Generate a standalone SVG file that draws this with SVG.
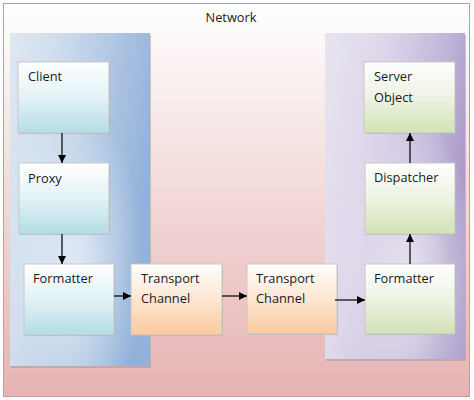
<svg xmlns="http://www.w3.org/2000/svg" width="474" height="400" viewBox="0 0 474 400">
<defs>
<linearGradient id="gNet" x1="0" y1="0" x2="0" y2="1">
<stop offset="0" stop-color="#ffffff"/>
<stop offset="0.45" stop-color="#f4dcdc"/>
<stop offset="1" stop-color="#e6b3b3"/>
</linearGradient>
<linearGradient id="gBlue" x1="0" y1="0" x2="1" y2="0.35">
<stop offset="0" stop-color="#dfe8f2"/>
<stop offset="0.35" stop-color="#cddcec"/>
<stop offset="0.75" stop-color="#a9c1e0"/>
<stop offset="1" stop-color="#93b2d9"/>
</linearGradient>
<radialGradient id="gBlueHi" cx="0.45" cy="0.7" r="0.5">
<stop offset="0" stop-color="#e6eef7" stop-opacity="0.9"/>
<stop offset="1" stop-color="#e6eef7" stop-opacity="0"/>
</radialGradient>
<linearGradient id="gPurple" x1="0" y1="0" x2="1" y2="0.35">
<stop offset="0" stop-color="#e8e4f0"/>
<stop offset="0.4" stop-color="#ddd6ea"/>
<stop offset="0.8" stop-color="#c0b4d8"/>
<stop offset="1" stop-color="#ab9cc9"/>
</linearGradient>
<radialGradient id="gPurpleHi" cx="0.6" cy="0.75" r="0.5">
<stop offset="0" stop-color="#ece8f3" stop-opacity="0.9"/>
<stop offset="1" stop-color="#ece8f3" stop-opacity="0"/>
</radialGradient>
<linearGradient id="gCyan" x1="0" y1="0" x2="0" y2="1">
<stop offset="0" stop-color="#ffffff"/>
<stop offset="0.5" stop-color="#e2f2f5"/>
<stop offset="1" stop-color="#b3dde5"/>
</linearGradient>
<linearGradient id="gOrange" x1="0" y1="0" x2="0" y2="1">
<stop offset="0" stop-color="#ffffff"/>
<stop offset="0.5" stop-color="#fde6d2"/>
<stop offset="1" stop-color="#fbc99f"/>
</linearGradient>
<linearGradient id="gGreen" x1="0" y1="0" x2="0" y2="1">
<stop offset="0" stop-color="#ffffff"/>
<stop offset="0.5" stop-color="#edf3e2"/>
<stop offset="1" stop-color="#d2e2b5"/>
</linearGradient>
<marker id="arr" viewBox="0 0 10 10" refX="10" refY="5" markerWidth="8" markerHeight="8" markerUnits="userSpaceOnUse" orient="auto">
<path d="M0,0 L10,5 L0,10 z" fill="#000"/>
</marker>
</defs>
<style>
text { font-family: "Open Sans", "Liberation Sans", sans-serif; font-size: 12.8px; fill: #1a1a1a; }
.node { stroke: #c8c8c8; stroke-width: 1; }
.shadow { fill: #9a9a9a; opacity: 0.5; }
.conn { stroke: #000; stroke-width: 1.2; fill: none; marker-end: url(#arr); }
</style>

<g id="network">
<rect x="3.5" y="3.5" width="466" height="393" fill="url(#gNet)" stroke="#c49a9a" stroke-width="1"/>
<text x="231" y="22" text-anchor="middle">Network</text>
</g>

<g id="client-side">
<rect x="11" y="35" width="140" height="333" class="shadow"/>
<rect x="10" y="33" width="140" height="333" fill="url(#gBlue)"/>
<rect x="10" y="33" width="140" height="333" fill="url(#gBlueHi)"/>
</g>

<g id="server-side">
<rect x="326" y="35" width="140" height="326" class="shadow"/>
<rect x="325" y="33" width="140" height="326" fill="url(#gPurple)"/>
<rect x="325" y="33" width="140" height="326" fill="url(#gPurpleHi)"/>
</g>

<g id="client">
<rect x="19" y="63" width="91" height="71" class="shadow"/>
<rect x="18" y="62" width="91" height="71" fill="url(#gCyan)" class="node"/>
<text x="28" y="81">Client</text>
</g>

<g id="proxy">
<rect x="20" y="164" width="90" height="71" class="shadow"/>
<rect x="19" y="163" width="90" height="71" fill="url(#gCyan)" class="node"/>
<text x="28" y="183">Proxy</text>
</g>

<g id="formatter-client">
<rect x="25" y="265" width="90" height="71" class="shadow"/>
<rect x="24" y="264" width="90" height="71" fill="url(#gCyan)" class="node"/>
<text x="33" y="283">Formatter</text>
</g>

<g id="transport-client">
<rect x="132" y="265" width="91" height="71" class="shadow"/>
<rect x="131" y="264" width="91" height="71" fill="url(#gOrange)" class="node"/>
<text x="141" y="283">Transport</text>
<text x="141" y="303">Channel</text>
</g>

<g id="transport-server">
<rect x="248" y="265" width="90" height="70" class="shadow"/>
<rect x="247" y="264" width="90" height="70" fill="url(#gOrange)" class="node"/>
<text x="256" y="283">Transport</text>
<text x="256" y="303">Channel</text>
</g>

<g id="formatter-server">
<rect x="366" y="265" width="90" height="70" class="shadow"/>
<rect x="365" y="264" width="90" height="70" fill="url(#gGreen)" class="node"/>
<text x="374" y="283">Formatter</text>
</g>

<g id="dispatcher">
<rect x="366" y="164" width="90" height="71" class="shadow"/>
<rect x="365" y="163" width="90" height="71" fill="url(#gGreen)" class="node"/>
<text x="374" y="182">Dispatcher</text>
</g>

<g id="server-object">
<rect x="365" y="63" width="91" height="71" class="shadow"/>
<rect x="364" y="62" width="91" height="71" fill="url(#gGreen)" class="node"/>
<text x="374" y="81">Server</text>
<text x="374" y="102">Object</text>
</g>

<g id="connectors">
<line x1="62" y1="133" x2="62" y2="163" class="conn"/>
<line x1="62" y1="234" x2="62" y2="264" class="conn"/>
<line x1="114" y1="296" x2="131" y2="296" class="conn"/>
<line x1="222" y1="296" x2="247" y2="296" class="conn"/>
<line x1="335" y1="300" x2="365" y2="300" class="conn"/>
<line x1="410" y1="264" x2="410" y2="234" class="conn"/>
<line x1="410" y1="163" x2="410" y2="133" class="conn"/>
</g>
</svg>
